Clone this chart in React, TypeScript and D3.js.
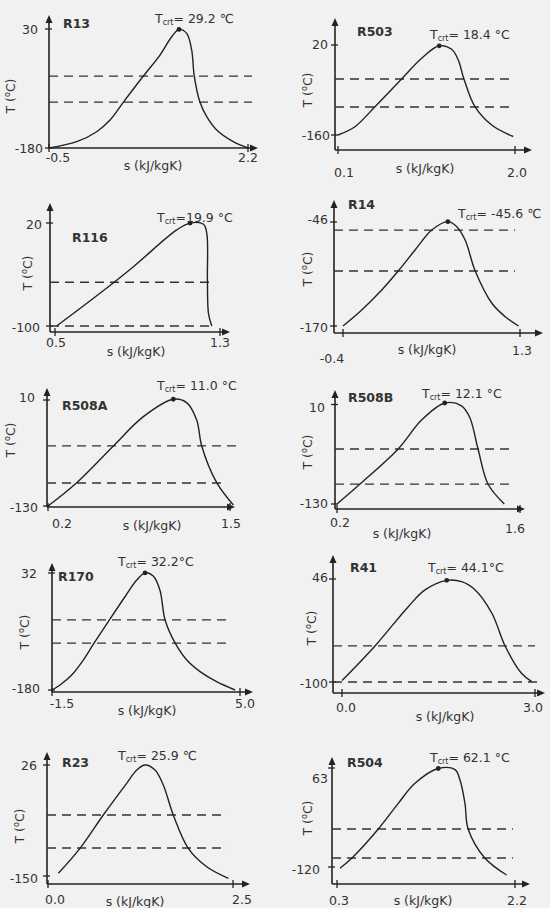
import React from 'react';
import * as d3 from 'd3';

// ---------- DATA ----------
const refrigerants = ['R13', 'R503', 'R116', 'R14', 'R508A', 'R508B', 'R170', 'R41', 'R23', 'R504'];
const criticalTemps = [29.2, 18.4, 19.9, -45.6, 11.0, 12.1, 32.2, 44.1, 25.9, 62.1];
const criticalEntropy = [1.264, 1.187, 1.155, 0.607, 1.095, 1.024, 1.718, 1.628, 1.31, 1.381];
const showCritDot = [true, true, true, true, true, true, true, true, false, true];
const critTempFormat = ['= {t} ℃', '= {t} °C', '={t} °C', '= {t} ℃', '= {t} °C', '= {t} °C', '= {t}°C', '= {t}°C', '= {t} ℃', '= {t} °C'];
const sTickValues = [[-0.5, 2.2], [0.1, 2.0], [0.5, 1.3], [-0.4, 1.3], [0.2, 1.5], [0.2, 1.6], [-1.5, 5.0], [0.0, 3.0], [0.0, 2.5], [0.3, 2.2]];
const tTickValues = [[-180, 30], [-160, 20], [-100, 20], [-170, -46], [-130, 10], [-130, 10], [-180, 32], [-100, 46], [-150, 26], [-120, 63]];
const dashedTemps = [[-53, -99], [-48, -104], [-49, -100], [-55.6, -104.4], [-50.7, -99.6], [-52.6, -101.9], [-53, -94.9], [-48.9, -100], [-53.3, -105.6], [-49.8, -103.4]];
const dashedEndS = [[2.254, 2.254], [1.967, 1.967], [1.262, 1.262], [1.252, 1.252], [1.55, 1.479], [1.524, 1.524], [4.59, 4.59], [3.0, 3.05], [2.42, 2.42], [2.178, 2.178]];

const curveR13 = [[-0.5, -180], [-0.124, -168.9], [0.147, -151.3], [0.328, -130.6], [0.508, -99.4], [0.78, -53], [1.006, -16], [1.165, 16.3], [1.264, 29.2], [1.368, 22.3], [1.436, -7.2], [1.471, -53], [1.549, -99.4], [1.64, -124.8], [1.775, -148.3], [2.0, -168.9], [2.2, -180]];
const curveR503 = [[0.1, -160], [0.282, -143.4], [0.497, -103.4], [0.783, -48], [0.998, -6.6], [1.187, 18.4], [1.32, 11.4], [1.391, -10], [1.452, -48], [1.57, -103.4], [1.749, -140], [1.98, -163]];
const curveR116 = [[0.508, -100], [0.718, -61.9], [0.88, -30.9], [1.09, 11.9], [1.155, 19.9], [1.22, 18.5], [1.236, 8], [1.239, -46.4], [1.244, -85.2], [1.26, -100]];
const curveR14 = [[-0.4, -170], [-0.22, -150.9], [-0.028, -127.1], [0.132, -104.1], [0.292, -79.4], [0.453, -55.6], [0.607, -45.6], [0.693, -51.6], [0.773, -67.5], [0.869, -104.1], [1.03, -142.9], [1.158, -158.9], [1.286, -170]];
const curveR508A = [[0.2, -130], [0.405, -99.2], [0.667, -50.7], [0.881, -12], [1.095, 11], [1.19, 6.5], [1.262, -16.4], [1.298, -50.7], [1.405, -99.2], [1.524, -128.7]];
const curveR508B = [[0.2, -130], [0.376, -101.9], [0.668, -52.6], [0.847, -11.9], [1.024, 12.1], [1.15, 8.5], [1.215, -8], [1.279, -52.6], [1.355, -101.9], [1.48, -130]];
const curveR170 = [[-1.5, -180], [-1.223, -170.9], [-0.819, -152.8], [-0.418, -125.7], [-0.037, -94.3], [0.482, -53.2], [1.024, -11], [1.43, 19.3], [1.718, 32.2], [2.0, 26.5], [2.23, 1.2], [2.41, -53.2], [2.75, -94.3], [3.16, -125.7], [3.62, -146.8], [4.19, -165], [4.83, -180]];
const curveR41 = [[0, -98], [0.513, -48.9], [1.03, 6.8], [1.29, 30.5], [1.628, 44.1], [1.86, 42.3], [2.07, 30.5], [2.33, -2.6], [2.535, -48.9], [2.79, -87.6], [2.95, -99.5]];
const curveR23 = [[0.14, -145.7], [0.432, -106.1], [0.747, -53.3], [1.063, -3.1], [1.2, 18], [1.31, 25.9], [1.446, 18], [1.558, -5.8], [1.693, -53.3], [1.896, -106.1], [2.145, -135.3], [2.437, -153.6]];
const curveR504 = [[0.332, -122.4], [0.457, -103.9], [0.741, -49.7], [0.954, -2.3], [1.132, 34.7], [1.381, 62.1], [1.56, 60], [1.613, 40.8], [1.666, -2.3], [1.70, -49.7], [1.88, -103.9], [2.11, -134.8]];
const saturationCurves = [curveR13, curveR503, curveR116, curveR14, curveR508A, curveR508B, curveR170, curveR41, curveR23, curveR504];

// ---------- LAYOUT ----------
type Layout = {
  ax: number; ay: number; top: number; right: number;
  xr: [number, number]; yr: [number, number];
  name: [number, number]; crit: [number, number];
  yTitle: [number, number]; xTitle: [number, number];
  xLab: [number, number][]; yLab: [number, number][];
};
const layouts: Layout[] = [
  { ax: 49, ay: 148, top: 15, right: 258, xr: [49, 248], yr: [148, 29], name: [63, 28], crit: [155, 23], yTitle: [11, 96], xTitle: [153, 170], xLab: [[58, 162], [248, 162]], yLab: [[43, 153], [38, 34]] },
  { ax: 335, ay: 150, top: 18, right: 532, xr: [338, 515], yr: [135, 45], name: [357, 36], crit: [430, 39], yTitle: [308, 90], xTitle: [425, 173], xLab: [[344, 177], [517, 177]], yLab: [[330, 140], [328, 49]] },
  { ax: 50, ay: 332, top: 203, right: 230, xr: [55, 220], yr: [326, 223], name: [72, 242], crit: [157, 222], yTitle: [28, 273], xTitle: [136, 356], xLab: [[56, 347], [220, 347]], yLab: [[40, 332], [42, 229]] },
  { ax: 334, ay: 333, top: 200, right: 543, xr: [343, 520], yr: [326, 222], name: [348, 209], crit: [458, 218], yTitle: [308, 269], xTitle: [427, 354], xLab: [[332, 363], [522, 355]], yLab: [[328, 332], [328, 224]] },
  { ax: 47, ay: 507, top: 388, right: 235, xr: [48, 230], yr: [506, 400], name: [62, 410], crit: [157, 390], yTitle: [11, 440], xTitle: [152, 530], xLab: [[62, 528], [231, 528]], yLab: [[38, 512], [35, 402]] },
  { ax: 335, ay: 509, top: 390, right: 525, xr: [337, 520], yr: [504, 404.5], name: [348, 402], crit: [422, 398], yTitle: [308, 452], xTitle: [402, 538], xLab: [[340, 527], [515, 533]], yLab: [[328, 508], [325, 412]] },
  { ax: 52, ay: 692, top: 563, right: 253, xr: [52, 240], yr: [690, 573], name: [58, 581], crit: [118, 566], yTitle: [25, 632], xTitle: [147, 715], xLab: [[62, 708], [245, 708]], yLab: [[40, 693], [37, 578]] },
  { ax: 333, ay: 693, top: 555, right: 545, xr: [342, 535], yr: [682, 579], name: [350, 572], crit: [428, 572], yTitle: [312, 628], xTitle: [445, 721], xLab: [[346, 712], [533, 712]], yLab: [[328, 688], [328, 582]] },
  { ax: 47, ay: 884, top: 752, right: 250, xr: [48, 233], yr: [876, 765], name: [62, 767], crit: [118, 760], yTitle: [20, 826], xTitle: [135, 906], xLab: [[55, 904], [242, 904]], yLab: [[38, 883], [37, 770]] },
  { ax: 332, ay: 884, top: 757, right: 530, xr: [337, 515], yr: [867, 768], name: [347, 767], crit: [430, 762], yTitle: [308, 818], xTitle: [423, 905], xLab: [[339, 905], [517, 905]], yLab: [[320, 874], [328, 783]] },
];

const FONT = '"DejaVu Sans", Verdana, sans-serif';
const INK = '#222';
const TEXT = '#333';

function Panel({ i }: { i: number }) {
  const L = layouts[i];
  const x = d3.scaleLinear().domain(sTickValues[i]).range(L.xr);
  const y = d3.scaleLinear().domain(tTickValues[i]).range(L.yr);
  const line = d3.line<number[]>().x(d => x(d[0])).y(d => y(d[1])).curve(d3.curveCatmullRom.alpha(0.5));
  const critText = critTempFormat[i].replace('{t}', criticalTemps[i].toFixed(1));
  const ah = 8, aw = 3.5;
  return (
    <g>
      {/* axes */}
      <line x1={L.ax} y1={L.ay} x2={L.ax} y2={L.top + ah - 1} stroke={INK} strokeWidth={1.6} />
      <line x1={L.ax} y1={L.ay} x2={L.right - ah + 1} y2={L.ay} stroke={INK} strokeWidth={1.6} />
      <polygon points={`${L.ax},${L.top} ${L.ax - aw},${L.top + ah} ${L.ax + aw},${L.top + ah}`} fill={INK} />
      <polygon points={`${L.right},${L.ay} ${L.right - ah},${L.ay - aw} ${L.right - ah},${L.ay + aw}`} fill={INK} />
      {/* ticks */}
      {tTickValues[i].map((t, k) => (
        <line key={'yt' + k} x1={L.ax - 4} x2={L.ax + 3} y1={y(t)} y2={y(t)} stroke={INK} strokeWidth={1.3} />
      ))}
      {sTickValues[i].map((s, k) => (
        <line key={'xt' + k} x1={x(s)} x2={x(s)} y1={L.ay - 4} y2={L.ay + 4} stroke={INK} strokeWidth={1.3} />
      ))}
      {/* dashed isotherms */}
      {dashedTemps[i].map((t, k) => (
        <line key={'d' + k} x1={L.ax} x2={x(dashedEndS[i][k])} y1={y(t)} y2={y(t)} stroke="#333" strokeWidth={1.3} strokeDasharray="9,6" />
      ))}
      {/* saturation dome */}
      <path d={line(saturationCurves[i]) || ''} fill="none" stroke={INK} strokeWidth={1.4} />
      {showCritDot[i] && <circle cx={x(criticalEntropy[i])} cy={y(criticalTemps[i])} r={2.4} fill={INK} />}
      {/* tick labels */}
      {tTickValues[i].map((t, k) => (
        <text key={'yl' + k} x={L.yLab[k][0]} y={L.yLab[k][1]} textAnchor="end" fontSize={12.5} fill={TEXT} fontFamily={FONT}>{String(t)}</text>
      ))}
      {sTickValues[i].map((s, k) => (
        <text key={'xl' + k} x={L.xLab[k][0]} y={L.xLab[k][1]} textAnchor="middle" fontSize={12.5} fill={TEXT} fontFamily={FONT}>{s.toFixed(1)}</text>
      ))}
      {/* titles */}
      <text x={L.name[0]} y={L.name[1]} fontSize={12.5} fontWeight="bold" fill={TEXT} fontFamily={FONT}>{refrigerants[i]}</text>
      <text x={L.crit[0]} y={L.crit[1]} fontSize={12.5} fill={TEXT} fontFamily={FONT}>
        <tspan>T</tspan>
        <tspan fontSize={8} dy={2}>crt</tspan>
        <tspan dy={-2}>{critText}</tspan>
      </text>
      <text x={L.xTitle[0]} y={L.xTitle[1]} textAnchor="middle" fontSize={12.5} fill={TEXT} fontFamily={FONT}>s (kJ/kgK)</text>
      <text transform={`translate(${L.yTitle[0]},${L.yTitle[1]}) rotate(-90)`} textAnchor="middle" dy={4} fontSize={12.5} fill={TEXT} fontFamily={FONT}>
        <tspan>T (</tspan>
        <tspan fontSize={8} dy={-5}>o</tspan>
        <tspan dy={5}>C)</tspan>
      </text>
    </g>
  );
}

export default function App() {
  return (
    <svg width={550} height={908} viewBox="0 0 550 908" style={{ position: 'absolute', left: 0, top: 0, display: 'block' }}>
      <rect x={0} y={0} width={550} height={908} fill="#f1f1f1" />
      {refrigerants.map((_, i) => <Panel key={i} i={i} />)}
    </svg>
  );
}
